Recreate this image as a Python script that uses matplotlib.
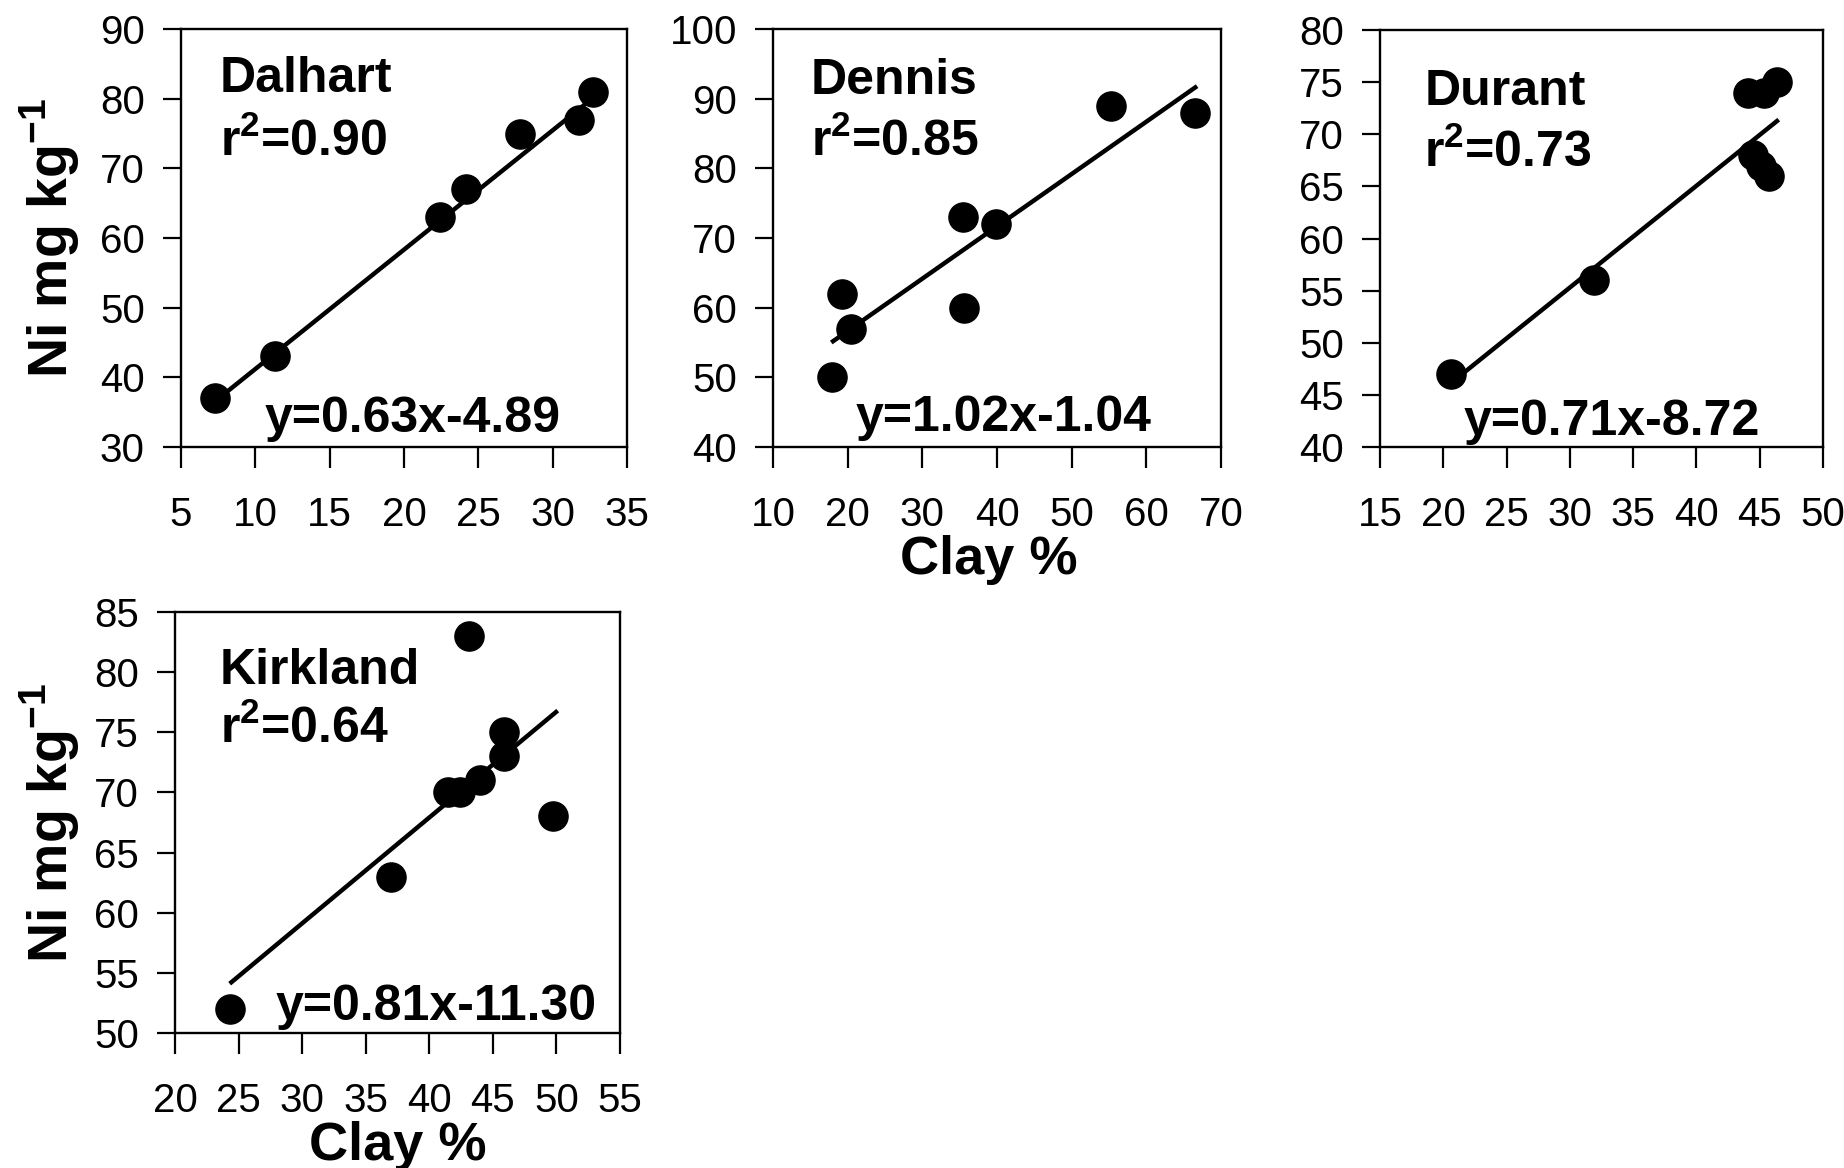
import matplotlib
matplotlib.use("Agg")
import matplotlib.pyplot as plt

plt.rcParams['font.family'] = ['Liberation Sans', 'DejaVu Sans']
plt.rcParams['mathtext.fontset'] = 'custom'
plt.rcParams['mathtext.rm'] = 'Liberation Sans'
plt.rcParams['mathtext.bf'] = 'Liberation Sans:bold'

# ---------------- data ----------------
dalhart_clay = [7.3, 11.3, 22.4, 24.2, 27.8, 31.8, 32.7]
dalhart_ni = [37, 43, 63, 67, 75, 77, 81]
dalhart_fit_clay = [7.9, 32.3]
dalhart_fit_ni = [37.6, 79.4]

dennis_clay = [17.9, 19.2, 20.4, 35.4, 35.6, 39.9, 55.3, 66.5]
dennis_ni = [50, 62, 57, 73, 60, 72, 89, 88]
dennis_fit_clay = [17.8, 66.8]
dennis_fit_ni = [55.0, 91.8]

durant_clay = [20.6, 31.9, 44.1, 45.3, 46.4, 44.5, 45.1, 45.7]
durant_ni = [47, 56, 74, 74, 75, 68, 67, 66]
durant_fit_clay = [21.6, 46.5]
durant_fit_ni = [47.1, 71.4]

kirkland_clay = [24.3, 37.0, 41.5, 42.4, 44.0, 45.9, 45.9, 43.1, 49.7]
kirkland_ni = [52, 63, 70, 70, 71, 75, 73, 83, 68]
kirkland_fit_clay = [24.3, 50.1]
kirkland_fit_ni = [54.1, 76.8]

site_names = ["Dalhart", "Dennis", "Durant", "Kirkland"]
r2_labels = ["0.90", "0.85", "0.73", "0.64"]
equations = ["y=0.63x-4.89", "y=1.02x-1.04", "y=0.71x-8.72", "y=0.81x-11.30"]

dalhart_xticks = [5, 10, 15, 20, 25, 30, 35]
dalhart_yticks = [30, 40, 50, 60, 70, 80, 90]
dennis_xticks = [10, 20, 30, 40, 50, 60, 70]
dennis_yticks = [40, 50, 60, 70, 80, 90, 100]
durant_xticks = [15, 20, 25, 30, 35, 40, 45, 50]
durant_yticks = [40, 45, 50, 55, 60, 65, 70, 75, 80]
kirkland_xticks = [20, 25, 30, 35, 40, 45, 50, 55]
kirkland_yticks = [50, 55, 60, 65, 70, 75, 80, 85]

ylabel_text = r"Ni mg kg$^{\mathbf{-1}}$"
xlabel_text = "Clay %"

# ---------------- layout ----------------
W, H = 1844, 1168
fig = plt.figure(figsize=(W / 100, H / 100), dpi=100)


def px_axes(x0, x1, ytop, ybot):
    return fig.add_axes([x0 / W, 1 - ybot / H, (x1 - x0) / W, (ybot - ytop) / H])


panels = [
    dict(ax=px_axes(181, 627, 29, 447), x=dalhart_clay, y=dalhart_ni,
         fx=dalhart_fit_clay, fy=dalhart_fit_ni, xt=dalhart_xticks, yt=dalhart_yticks,
         name_pos=(0.087, 0.849), r2_pos=(0.087, 0.696), eq_pos=(0.188, 0.035),
         ylabel=-0.294, xlabel=None),
    dict(ax=px_axes(773, 1221, 29, 447), x=dennis_clay, y=dennis_ni,
         fx=dennis_fit_clay, fy=dennis_fit_ni, xt=dennis_xticks, yt=dennis_yticks,
         name_pos=(0.085, 0.845), r2_pos=(0.085, 0.696), eq_pos=(0.185, 0.038),
         ylabel=None, xlabel=0.482),
    dict(ax=px_axes(1380, 1823, 30, 447), x=durant_clay, y=durant_ni,
         fx=durant_fit_clay, fy=durant_fit_ni, xt=durant_xticks, yt=durant_yticks,
         name_pos=(0.10, 0.82), r2_pos=(0.10, 0.671), eq_pos=(0.188, 0.029),
         ylabel=None, xlabel=None),
    dict(ax=px_axes(175, 620, 612, 1033), x=kirkland_clay, y=kirkland_ni,
         fx=kirkland_fit_clay, fy=kirkland_fit_ni, xt=kirkland_xticks, yt=kirkland_yticks,
         name_pos=(0.101, 0.83), r2_pos=(0.101, 0.69), eq_pos=(0.227, 0.031),
         ylabel=-0.281, xlabel=0.5),
]

for i, p in enumerate(panels):
    ax = p['ax']
    ax.plot(p['fx'], p['fy'], color='black', lw=3.2, solid_capstyle='butt', zorder=2)
    ax.plot(p['x'], p['y'], 'o', color='black', ms=21, zorder=3, clip_on=False)
    ax.set_xlim(p['xt'][0], p['xt'][-1])
    ax.set_ylim(p['yt'][0], p['yt'][-1])
    ax.set_xticks(p['xt'])
    ax.set_yticks(p['yt'])
    ax.set_xticklabels([str(v) for v in p['xt']])
    ax.set_yticklabels([str(v) for v in p['yt']])
    ax.tick_params(axis='x', direction='out', length=15, width=1.6, pad=20, labelsize=29)
    ax.tick_params(axis='y', direction='out', length=13, width=1.6, pad=13, labelsize=29)
    for s in ax.spines.values():
        s.set_linewidth(1.7)
    bold = dict(fontsize=36, fontweight='bold', transform=ax.transAxes, ha='left',
                va='baseline')
    ax.text(*p['name_pos'], site_names[i], **bold)
    ax.text(*p['r2_pos'], r"r$^{\mathbf{2}}$=" + r2_labels[i], **bold)
    ax.text(*p['eq_pos'], equations[i], **bold)
    if p['ylabel'] is not None:
        ax.set_ylabel(ylabel_text, fontsize=40, fontweight='bold', va='center')
        ax.yaxis.set_label_coords(p['ylabel'], 0.5)
    if p['xlabel'] is not None:
        ax.set_xlabel(xlabel_text, fontsize=39, fontweight='bold', va='top')
        ax.xaxis.set_label_coords(p['xlabel'], -0.21)

fig.savefig("out.png", dpi=100)
